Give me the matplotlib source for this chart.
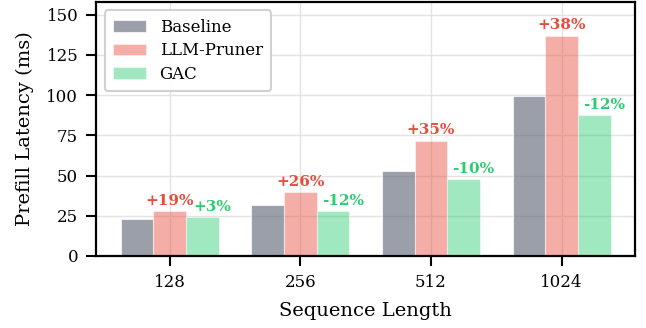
import matplotlib
matplotlib.use("Agg")
import matplotlib.pyplot as plt
import numpy as np

seq_lengths = ["128", "256", "512", "1024"]
baseline = [23.2, 31.6, 53.1, 99.3]
llm_pruner = [27.6, 39.8, 71.7, 137.0]
gac = [23.9, 27.8, 47.8, 87.4]

plt.rcParams["font.family"] = ["DejaVu Serif"]

fig, ax = plt.subplots(figsize=(6.46, 3.28), dpi=100)

x = np.arange(len(seq_lengths))
w = 0.25
c_base, c_llm, c_gac = "#6b7280", "#e74c3c", "#2ecc71"

ax.bar(x - w, baseline, w, color=c_base, alpha=0.68, edgecolor="white", linewidth=0.8, label="Baseline", zorder=2)
ax.bar(x, llm_pruner, w, color=c_llm, alpha=0.45, edgecolor="white", linewidth=0.8, label="LLM-Pruner", zorder=2)
ax.bar(x + w, gac, w, color=c_gac, alpha=0.45, edgecolor="white", linewidth=0.8, label="GAC", zorder=2)

# relative change versus baseline above each method bar
for i in range(len(seq_lengths)):
    for vals, dx, col in ((llm_pruner, 0.0, "#e74c3c"), (gac, w + 0.075, "#2ecc71")):
        pct = round((vals[i] / baseline[i] - 1) * 100)
        ax.text(x[i] + dx, vals[i] + 2.0, f"{pct:+d}%", ha="center", va="bottom",
                fontsize=11, fontweight="bold", color=col)

ax.set_xticks(x)
ax.set_xticklabels(seq_lengths)
ax.set_ylim(0, 158)
ax.set_yticks([0, 25, 50, 75, 100, 125, 150])
ax.set_xlabel("Sequence Length", fontsize=14, labelpad=8)
ax.set_ylabel("Prefill Latency (ms)", fontsize=14, labelpad=9)
ax.tick_params(axis="both", labelsize=12, width=1.5, length=7, pad=6)
ax.grid(True, color="#e3e3e3", linewidth=1.0, zorder=0)
ax.set_axisbelow(True)
for s in ax.spines.values():
    s.set_linewidth(1.6)
    s.set_color("black")

leg = ax.legend(loc="upper left", fontsize=12, frameon=True, fancybox=True,
                edgecolor="#cccccc", framealpha=0.9, borderpad=0.5, labelspacing=0.4)
leg.get_frame().set_linewidth(1.5)

fig.subplots_adjust(left=0.149, right=0.983, top=0.994, bottom=0.22)
fig.savefig("out.png", dpi=100)
